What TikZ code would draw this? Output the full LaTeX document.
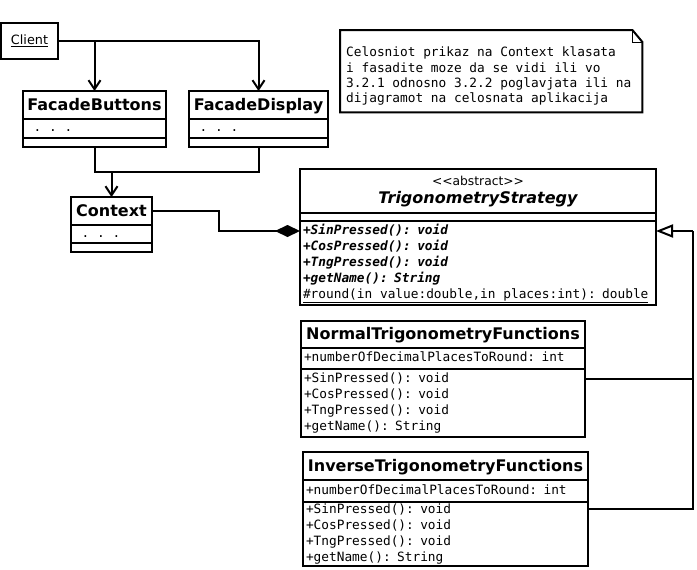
\documentclass[tikz,border=0pt]{standalone}
\usepackage{fontspec}
\setmainfont{DejaVu Sans}
\setmonofont{DejaVu Sans Mono}
\usetikzlibrary{arrows.meta}

\newcommand{\elided}{\hphantom{.}.\hphantom{.}.\hphantom{.}.}
\newcommand{\wordgap}{\hphantom{x}}

\begin{document}
\begin{tikzpicture}[x=1pt, y=-1pt,
  box/.style={draw, line width=2pt, outer sep=0pt, inner xsep=3pt, inner ysep=0pt, anchor=north west},
  headbox/.style={box, align=center, font=\bfseries\fontsize{16}{16}\selectfont},
  namebox/.style={headbox, text height=14pt, text depth=4pt},
  membox/.style={box, align=left, font=\ttfamily\fontsize{12.8}{16}\selectfont, execute at begin node=\strut, execute at end node=\strut},
  link/.style={line width=2pt},
  uses/.style={link, -{Straight Barb[length=9pt,width=12pt]}},
  owns/.style={link, -{Diamond[length=25pt,width=12pt]}},
  extends/.style={link, -{Triangle[open,length=17pt,width=13pt]}}]
\useasboundingbox (0,0) rectangle (697,570);

% Client and facades
\node[draw, line width=2pt, minimum width=57pt, minimum height=36pt, font=\fontsize{12.8}{16}\selectfont] (client) at (29.5,41) {\underline{Client}};

\node[namebox, minimum width=143pt, minimum height=28pt] (fbname) at (23,91) {FacadeButtons};
\node[membox, text width=137pt, minimum height=19pt] (fbattr) at (fbname.south west) {\elided};
\node[box, minimum width=143pt, minimum height=9pt] (fbops) at (fbattr.south west) {};

\node[namebox, minimum width=139pt, minimum height=28pt] (fdname) at (189,91) {FacadeDisplay};
\node[membox, text width=133pt, minimum height=19pt] (fdattr) at (fdname.south west) {\elided};
\node[box, minimum width=139pt, minimum height=9pt] (fdops) at (fdattr.south west) {};

\node[namebox, minimum width=81pt, minimum height=28pt] (ctxname) at (71,197) {Context};
\node[membox, text width=75pt, minimum height=18pt] (ctxattr) at (ctxname.south west) {\elided};
\node[box, minimum width=81pt, minimum height=9pt] (ctxops) at (ctxattr.south west) {};

% Note
\node[font=\ttfamily\fontsize{12.8}{15.3}\selectfont, align=left, text width=290pt, inner xsep=6pt, inner ysep=0pt, anchor=north west,
  execute at begin node=\strut, execute at end node=\strut] (note) at (340,46)
  {Celosniot\wordgap prikaz\wordgap na\wordgap Context\wordgap klasata\\
   i\wordgap fasadite\wordgap moze\wordgap da\wordgap se\wordgap vidi\wordgap ili\wordgap vo\\
   3.2.1\wordgap odnosno\wordgap 3.2.2\wordgap poglavjata\wordgap ili\wordgap na\\
   dijagramot\wordgap na\wordgap celosnata\wordgap aplikacija};
\draw[link] ([yshift=16pt]note.north west) -- ([xshift=-10pt,yshift=16pt]note.north east) -- ([yshift=4pt]note.north east)
  -- ([yshift=-4.8pt]note.south east) -- ([yshift=-4.8pt]note.south west) -- cycle;
\draw[line width=1pt] ([xshift=-10pt,yshift=16pt]note.north east) |- ([yshift=4pt]note.north east);

% Strategy classes
\node[headbox, minimum width=356pt, minimum height=44pt] (trigname) at (300,169)
  {\strut{\mdseries\fontsize{12.3}{14}\selectfont <\kern0pt<abstract>\kern0pt>}\\\strut\itshape TrigonometryStrategy};
\node[box, minimum width=356pt, minimum height=8pt] (trigattr) at (trigname.south west) {};
\node[membox, font=\ttfamily\bfseries\itshape\fontsize{12.8}{16}\selectfont, text width=350pt, minimum height=84pt] (trigops) at (trigattr.south west)
  {+SinPressed(): void\\+CosPressed(): void\\+TngPressed(): void\\+getName(): String\\
   {\mdseries\upshape\underline{\#round(in\wordgap value:double,in\wordgap places:int): double}}};

\node[namebox, minimum width=284pt, minimum height=27pt] (normname) at (301,321) {NormalTrigonometryFunctions};
\node[membox, text width=278pt, minimum height=21pt] (normattr) at (normname.south west) {+numberOfDecimalPlacesToRound: int};
\node[membox, text width=278pt, minimum height=68pt] (normops) at (normattr.south west)
  {+SinPressed(): void\\+CosPressed(): void\\+TngPressed(): void\\+getName(): String};

\node[namebox, minimum width=285pt, minimum height=28pt] (invname) at (303,452) {InverseTrigonometryFunctions};
\node[membox, text width=279pt, minimum height=22pt] (invattr) at (invname.south west) {+numberOfDecimalPlacesToRound: int};
\node[membox, text width=279pt, minimum height=63pt] (invops) at (invattr.south west)
  {+SinPressed(): void\\+CosPressed(): void\\+TngPressed(): void\\+getName(): String};

% Arrows
\draw[uses] (client.east) -| (fbname.north);
\draw[uses] (client.east) -| (fdname.north);
\draw[link] (fbops.south) -- ++(0,25) coordinate (merge) -- (merge -| fdops.south) -- (fdops.south);
\draw[uses] (merge -| ctxname.north) -- (ctxname.north);
\draw[owns] (ctxname.east) -- ++(67,0) |- ([yshift=-10pt]trigops.north west);

\coordinate (bus) at ([xshift=37pt,yshift=-10pt]trigops.north east);
\coordinate (normjoin) at ([yshift=-10pt]normops.north east);
\draw[link] ([yshift=-7pt]invops.north east) -| (bus);
\draw[link] (normjoin) -- (normjoin -| bus);
\draw[extends] (bus) -- ([yshift=-10pt]trigops.north east);
\end{tikzpicture}
\end{document}
